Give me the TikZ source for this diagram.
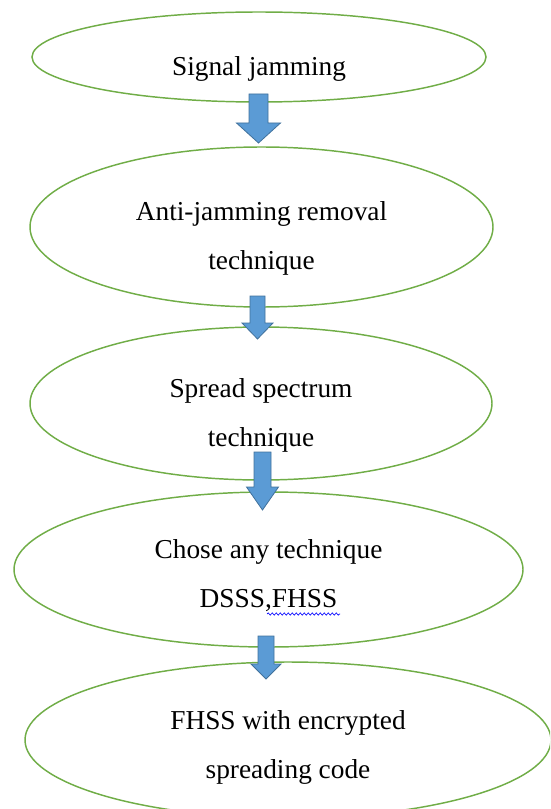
\documentclass[tikz,border=0pt]{standalone}
\usepackage{fontspec}
\setmainfont{Liberation Serif}
\usetikzlibrary{calc,shapes.geometric,decorations.pathmorphing}
\definecolor{ovalgreen}{HTML}{70AD47}
\definecolor{arrowfill}{HTML}{5B9BD5}
\definecolor{arrowline}{HTML}{41719C}
\newcommand{\blockarrow}[5]{%
  \draw[barrow] ($(#1)+(-#3,0)$) -- ($(#2)+(-#3,-#5)$) -- ($(#2)+(-#4,-#5)$) -- (#2)
    -- ($(#2)+(#4,-#5)$) -- ($(#2)+(#3,-#5)$) -- ($(#1)+(#3,0)$) -- cycle;}

\begin{document}
\begin{tikzpicture}[x=0.75pt,y=-0.75pt,
    oval/.style={draw=ovalgreen,line width=1.1pt,ellipse,inner sep=0pt},
    txt/.style={align=center,font=\fontsize{20.5}{36.75}\selectfont},
    barrow/.style={fill=arrowfill,draw=arrowline,line width=0.6pt},
    spell/.style={draw=blue,line width=0.5pt,decorate,decoration={snake,segment length=3pt,amplitude=0.8pt}}]
  \useasboundingbox (0,0) rectangle (550,809);
  \clip (0,0) rectangle (550,809);
  % ovals
  \node[oval,minimum width=340.5pt,minimum height=67.5pt](e1)at(259,57){};
  \node[oval,minimum width=347.25pt,minimum height=120pt](e2)at(261.5,227){};
  \node[oval,minimum width=346.5pt,minimum height=114.75pt](e3)at(261,403.5){};
  \node[oval,minimum width=381.75pt,minimum height=116.25pt](e4)at(268.5,569.5){};
  \node[oval,minimum width=394.5pt,minimum height=117pt](e5)at(288,740){};
  % texts
  \node[txt](t1)at($(e1.center)+(0,12)$){Signal jamming};
  \node[txt](t2)at($(e2.center)+(0,11)$){Anti-jamming removal\\technique};
  \node[txt](t3)at($(e3.center)+(0,11.5)$){Spread spectrum\\technique};
  \node[txt](t4)at($(e4.center)+(0,6.5)$){Chose any technique\\DSSS,FHSS};
  \node[txt](t5)at($(e5.center)+(0,7)$){FHSS with encrypted\\spreading code};
  \draw[spell] (267,614) -- (340,614);
  % arrows
  \coordinate (a1top) at (258.5,94);  \coordinate (a1tip) at (258.5,143);
  \coordinate (a2top) at (257.5,296); \coordinate (a2tip) at (257.5,339);
  \coordinate (a3top) at (262.5,452); \coordinate (a3tip) at (262.5,510);
  \coordinate (a4top) at (266,636);   \coordinate (a4tip) at (266,679);
  \blockarrow{a1top}{a1tip}{9.5}{22}{20}
  \blockarrow{a2top}{a2tip}{7.5}{15.5}{16}
  \blockarrow{a3top}{a3tip}{8.5}{16}{23}
  \blockarrow{a4top}{a4tip}{8}{15}{15}
\end{tikzpicture}
\end{document}
